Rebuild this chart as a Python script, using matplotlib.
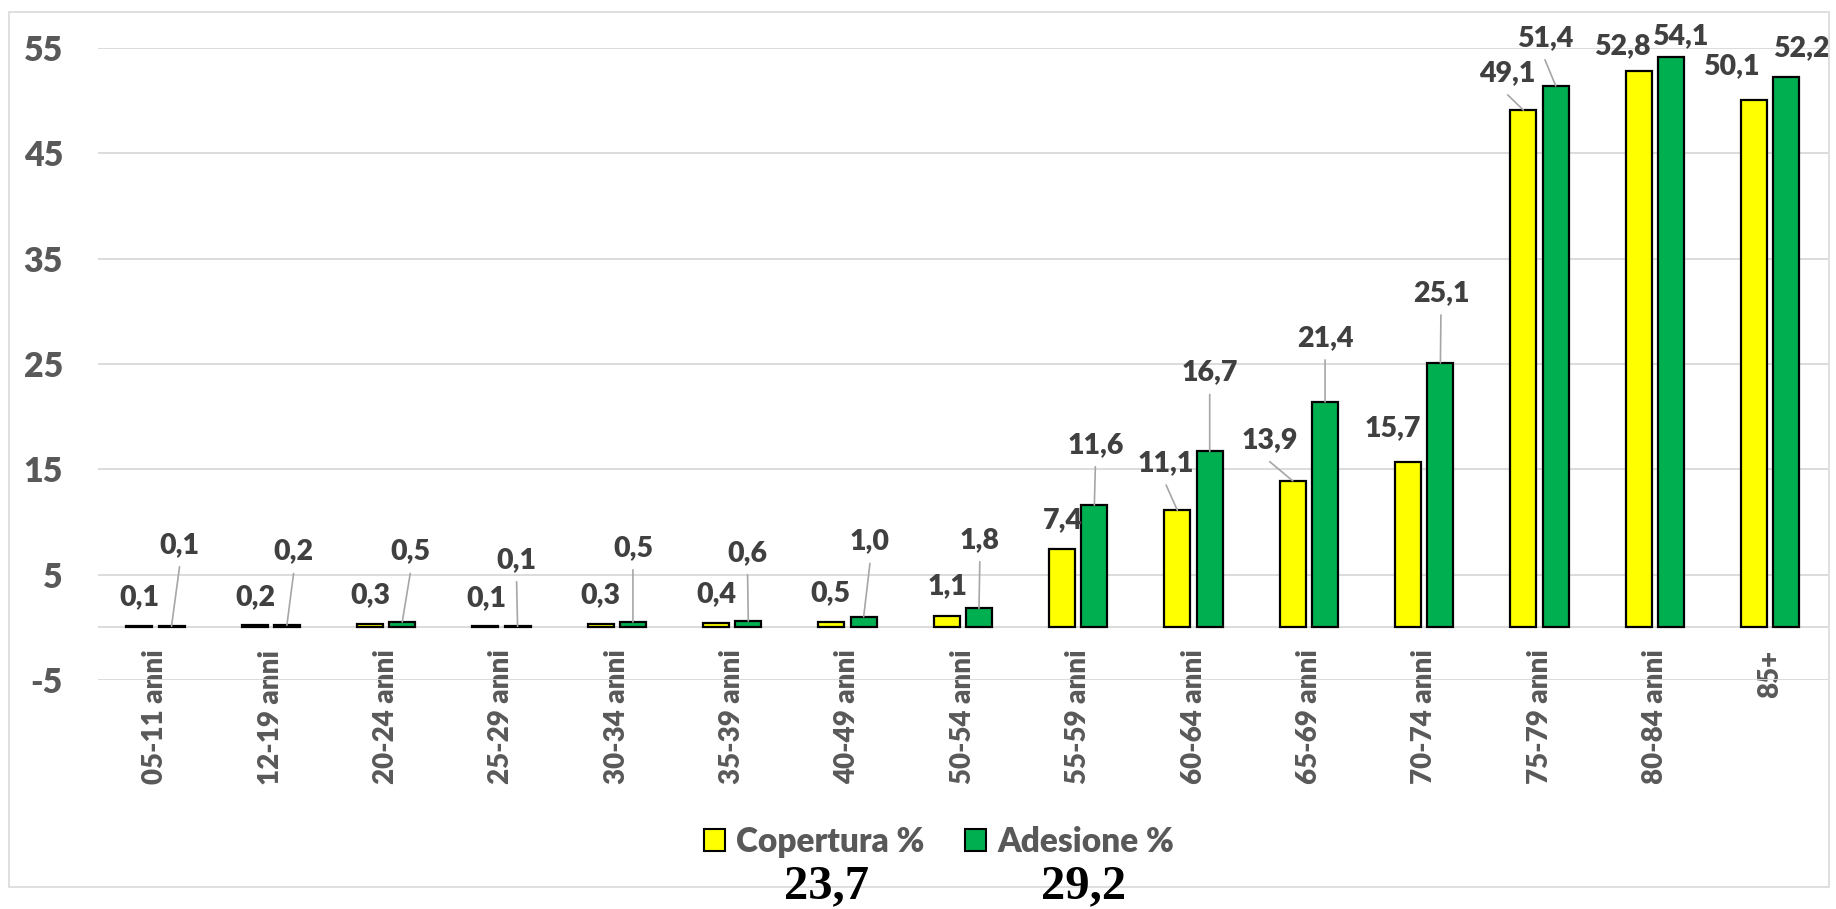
import matplotlib
matplotlib.use("Agg")
import matplotlib.pyplot as plt
from matplotlib.patches import Rectangle, Patch
import numpy as np

plt.rcParams['font.family'] = ['Lato', 'DejaVu Sans']

# ---- data ----
categories = ["05-11 anni", "12-19 anni", "20-24 anni", "25-29 anni", "30-34 anni",
              "35-39 anni", "40-49 anni", "50-54 anni", "55-59 anni", "60-64 anni",
              "65-69 anni", "70-74 anni", "75-79 anni", "80-84 anni", "85+"]
copertura = [0.1, 0.2, 0.3, 0.1, 0.3, 0.4, 0.5, 1.1, 7.4, 11.1, 13.9, 15.7, 49.1, 52.8, 50.1]
adesione = [0.1, 0.2, 0.5, 0.1, 0.5, 0.6, 1.0, 1.8, 11.6, 16.7, 21.4, 25.1, 51.4, 54.1, 52.2]
series_names = ["Copertura %", "Adesione %"]
totals = [23.7, 29.2]
yticks = [-5, 5, 15, 25, 35, 45, 55]

# ---- label placement (pixel offsets from bar top, leader flag) ----
cop_off = [(0, 29.5), (0.5, 28.5), (0, 29.4), (0.6, 28.5), (0, 29.4), (0.4, 29.4), (-1, 29.3),
           (1.3, 29.3), (0.5, 29.7), (-11.3, 47.4), (-23, 41.2), (-15.5, 34), (-15.8, 37.3),
           (-16.5, 24.9), (-22.8, 33.4)]
cop_lead = [0, 0, 0, 0, 0, 0, 0, 0, 0, 1, 1, 0, 1, 0, 0]
ade_off = [(8, 81.5), (6.7, 73.8), (8, 70.6), (-1, 66.5), (0, 74.3), (-0.7, 68.3), (6.3, 75.4),
           (0.8, 68.6), (1, 60.5), (0, 79), (0, 64), (0.5, 70), (-10.8, 48.1),
           (9.5, 21.2), (15, 29.6)]
ade_lead = [1, 1, 1, 1, 1, 1, 1, 1, 1, 1, 1, 1, 1, 0, 0]

YELLOW = "#FFFF00"
GREEN = "#00B050"
GRID = "#D9D9D9"
TICK = "#595959"
LABEL = "#404040"
LEAD = "#A6A6A6"
WEIGHT = "heavy"

W, H = 1836, 909
fig = plt.figure(figsize=(W / 100, H / 100), dpi=100)

# outer border
fig.patches.append(Rectangle((9.3 / W, 1 - 887 / H), (1829 - 9.3) / W, (887 - 12) / H,
                             transform=fig.transFigure, fill=False,
                             edgecolor=GRID, linewidth=1.2, zorder=0))

ax = fig.add_axes([97.7 / W, 1 - 680 / H, (1828 - 97.7) / W, (680 - 48) / H])
x = np.arange(len(categories))
off = 0.14
bw = 0.225
ax.bar(x - off, copertura, bw, color=YELLOW, edgecolor="black", linewidth=1.6, zorder=3)
ax.bar(x + off, adesione, bw, color=GREEN, edgecolor="black", linewidth=1.6, zorder=3)

ax.set_xlim(-0.5, len(categories) - 0.5)
ax.set_ylim(-5, 55)
ax.grid(axis="y", color=GRID, linewidth=1.3)
ax.axhline(0, color=GRID, linewidth=1.3, zorder=1)
ax.set_axisbelow(True)
for s in ax.spines.values():
    s.set_visible(False)
ax.spines['bottom'].set_position(('data', 0))
ax.tick_params(axis="y", length=0, pad=25)
ax.tick_params(axis="x", length=0, pad=16)
ax.set_yticks(yticks)
ax.set_yticklabels([str(t) for t in yticks], fontsize=24.5, fontweight=WEIGHT, color=TICK)
ax.set_xticks(x)
ax.set_xticklabels(categories, rotation=90, fontsize=20, fontweight=WEIGHT, color=TICK,
                   va="top", ha="center")


def fmt(v):
    return f"{v:.1f}".replace(".", ",")


def draw_labels(xs, vals, offs, leads):
    for xi, v, (dx, dy), ld in zip(xs, vals, offs, leads):
        ax.annotate(fmt(v), xy=(xi, v), xytext=(dx, dy), textcoords="offset pixels",
                    ha="center", va="center", fontsize=20.5, fontweight=WEIGHT,
                    color=LABEL, zorder=5, annotation_clip=False)
        if ld:
            ax.annotate("", xy=(xi, v), xytext=(dx, dy - 22), textcoords="offset pixels",
                        arrowprops=dict(arrowstyle="-", color=LEAD, lw=1.2,
                                        shrinkA=0, shrinkB=0), zorder=4,
                        annotation_clip=False)


draw_labels(x - off, copertura, cop_off, cop_lead)
draw_labels(x + off, adesione, ade_off, ade_lead)

handles = [Patch(facecolor=YELLOW, edgecolor="black", linewidth=1.5),
           Patch(facecolor=GREEN, edgecolor="black", linewidth=1.5)]
leg = fig.legend(handles, series_names, loc="center", bbox_to_anchor=(939 / W, 1 - 841.7 / H),
                 ncol=2, frameon=False, handlelength=0.64, handleheight=0.64,
                 handletextpad=0.34, columnspacing=1.2,
                 prop=dict(family="Lato", weight=WEIGHT, size=24))
for t in leg.get_texts():
    t.set_color(TICK)

for cx, tv in zip([827, 1084], totals):
    fig.text(cx / W, 1 - 886 / H, fmt(tv), ha="center", va="center",
             fontsize=35, fontweight="bold", family="Liberation Serif", color="black")

fig.savefig("out.png", dpi=100)
